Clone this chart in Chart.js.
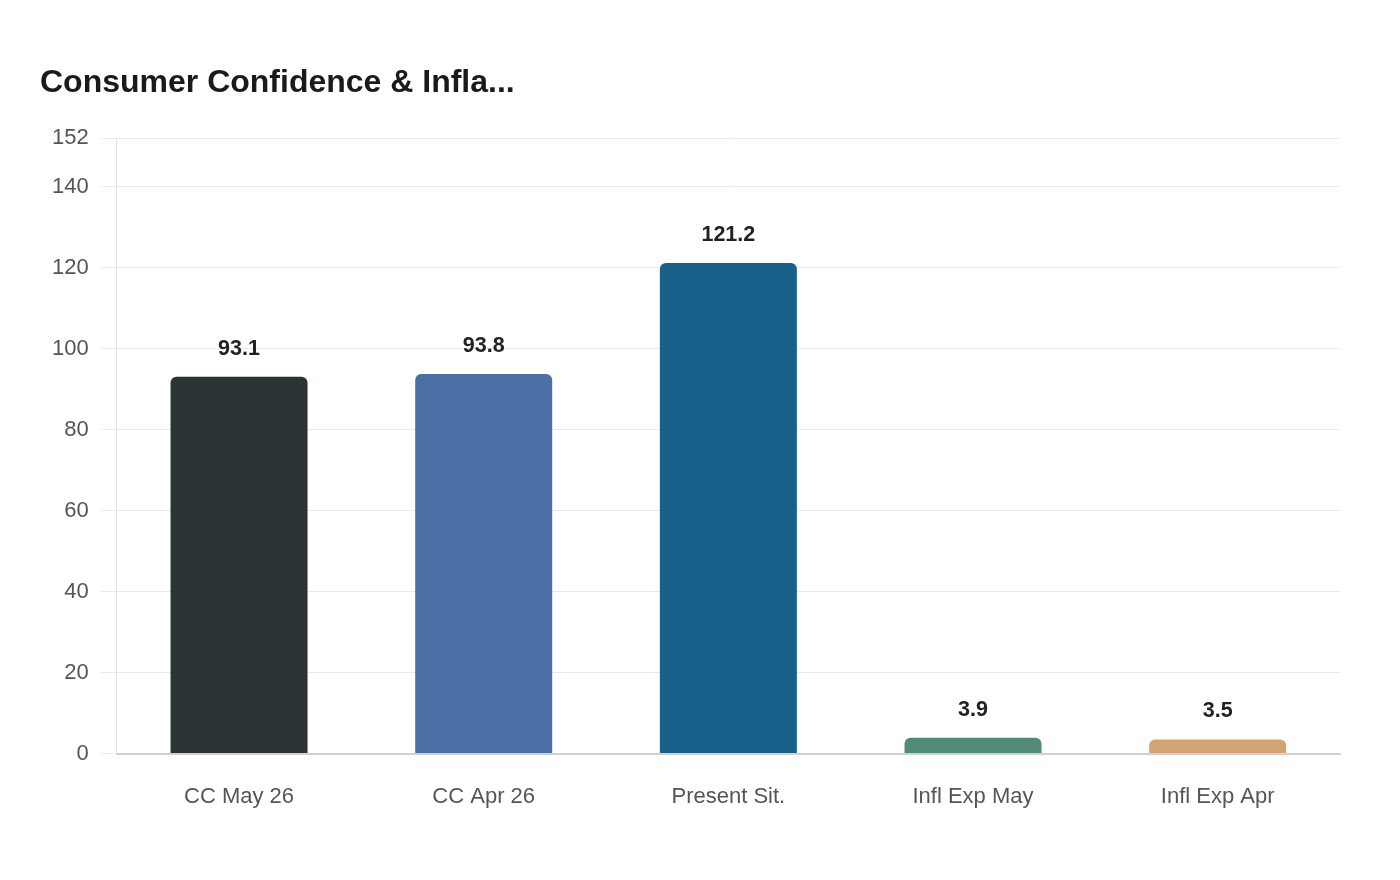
<!DOCTYPE html>
<html>
<head>
<meta charset="utf-8">
<script src="https://cdn.jsdelivr.net/npm/chart.js@4"></script>
<style>
html,body{margin:0;padding:0;background:#fff;}
#wrap{width:1400px;height:880px;}
</style>
</head>
<body>
<div id="wrap"><canvas id="c" width="1400" height="880"></canvas></div>
<script>
const categories = ["CC May 26", "CC Apr 26", "Present Sit.", "Infl Exp May", "Infl Exp Apr"];
const values = [93.1, 93.8, 121.2, 3.9, 3.5];
const barColors = ["#2d3436", "#4a6fa5", "#17608a", "#528a7a", "#d4a373"];
const yTicks = [0, 20, 40, 60, 80, 100, 120, 140, 152];
const titleText = "Consumer Confidence & Infla...";

const valueLabels = {
  id: 'valueLabels',
  afterDatasetsDraw(chart) {
    const ctx = chart.ctx;
    const meta = chart.getDatasetMeta(0);
    ctx.save();
    ctx.font = 'bold 21.5px "Liberation Sans", Arial, sans-serif';
    ctx.fillStyle = '#222222';
    ctx.textAlign = 'center';
    ctx.textBaseline = 'middle';
    meta.data.forEach((bar, i) => {
      ctx.fillText(String(values[i]), bar.x, bar.y - 28);
    });
    ctx.restore();
  }
};

new Chart(document.getElementById('c'), {
  type: 'bar',
  data: {
    labels: categories,
    datasets: [{
      data: values,
      backgroundColor: barColors,
      borderRadius: {topLeft: 6, topRight: 6, bottomLeft: 0, bottomRight: 0},
      borderSkipped: 'start',
      barPercentage: 0.8,
      categoryPercentage: 0.7
    }]
  },
  options: {
    responsive: false,
    animation: false,
    devicePixelRatio: 1,
    layout: {padding: {left: 40, right: 60, top: 64, bottom: 48}},
    plugins: {
      legend: {display: false},
      tooltip: {enabled: false},
      title: {
        display: true,
        text: titleText,
        align: 'start',
        color: '#1a1a1a',
        font: {family: '"Liberation Sans", Arial, sans-serif', size: 32, weight: 'bold'},
        padding: {top: 0, bottom: 36}
      }
    },
    scales: {
      x: {
        grid: {display: false},
        border: {color: '#d0d0d0', width: 2},
        ticks: {color: '#555555', font: {family: '"Liberation Sans", Arial, sans-serif', size: 22}, padding: 22}
      },
      y: {
        min: 0,
        max: 152,
        afterBuildTicks(scale) { scale.ticks = yTicks.map(v => ({value: v})); },
        grid: {color: '#ebebeb', lineWidth: 1, tickLength: 16},
        border: {color: '#e0e0e0', width: 1},
        ticks: {color: '#555555', font: {family: '"Liberation Sans", Arial, sans-serif', size: 22}, padding: 12}
      }
    }
  },
  plugins: [valueLabels]
});
</script>
</body>
</html>
